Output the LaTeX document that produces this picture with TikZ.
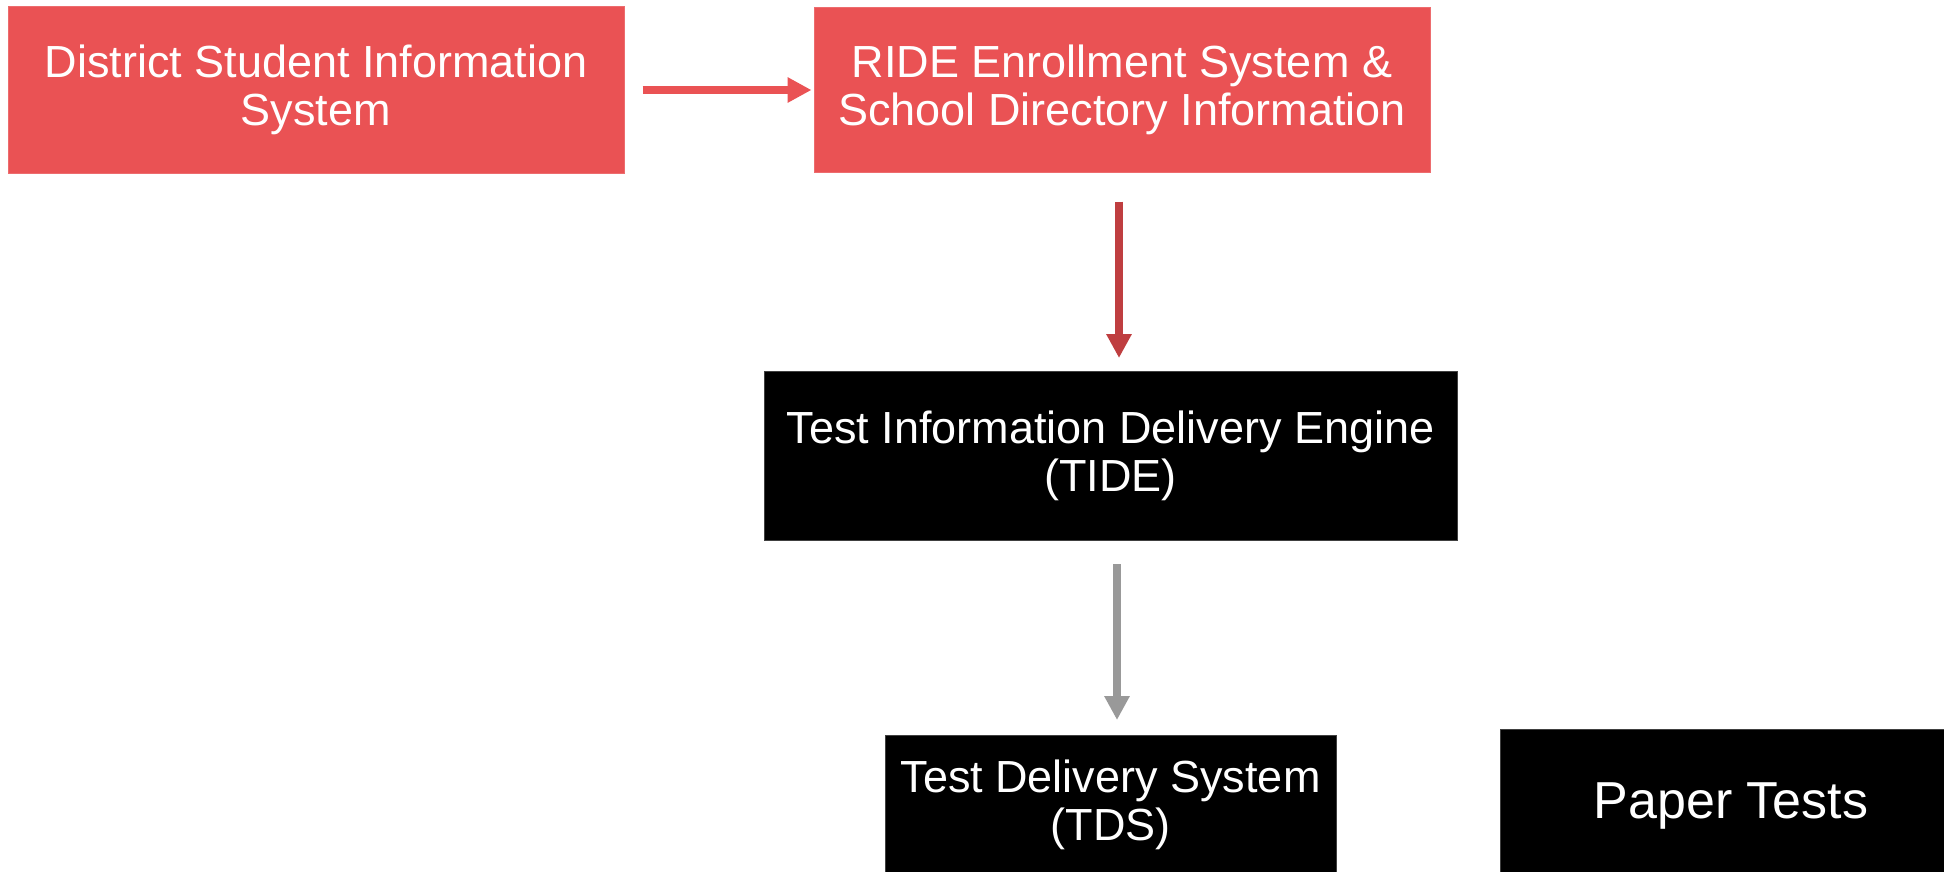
\documentclass[tikz,border=0pt]{standalone}
\usepackage{fontspec}
\setmainfont{Liberation Sans}
\usetikzlibrary{arrows.meta,calc}
\definecolor{boxred}{RGB}{234,82,84}
\definecolor{arrred}{RGB}{191,62,64}
\definecolor{arrgray}{RGB}{153,153,153}
\begin{document}
\begin{tikzpicture}[x=1pt,y=-1pt,
  box/.style={rectangle, inner sep=0pt, text=white, align=center, font=\fontsize{45}{48}\selectfont},
  redbox/.style={box, fill=boxred, draw=boxred!85!white, line width=1pt},
  blackbox/.style={box, fill=black, draw=black!75, line width=1pt},
  conn/.style={line width=8pt, -{Triangle[length=24pt,width=24pt]}},
]
\useasboundingbox (0,0) rectangle (1944,871);
\clip (0,0) rectangle (1944,871);
\fill[white] (0,0) rectangle (1944,871);

\node[redbox, minimum width=616pt, minimum height=167pt] (dsis) at (316,89.5) {District Student Information\\System};
\node[redbox, minimum width=616pt, minimum height=165pt] (ride) at (1122,89.5) {RIDE Enrollment System \&\\School Directory Information};
\node[blackbox, minimum width=693pt, minimum height=169pt] (tide) at (1110.5,456) {Test Information Delivery Engine\\(TIDE)};
\node[blackbox, minimum width=451pt, minimum height=240pt, anchor=north west] (tds) at (885,735) {};
\node[box] (tdsl) at (1110.5,805) {Test Delivery System\\(TDS)};
\node[blackbox, minimum width=500pt, minimum height=240pt, anchor=north west] (paper) at (1500,729) {};
\node[box, font=\fontsize{52}{60}\selectfont] (paperl) at (1731,806) {Paper Tests};

\draw[conn, draw=boxred, shorten <=18pt, shorten >=2pt] ([yshift=-0.5pt]dsis.east) -- ([yshift=-0.5pt]ride.west);
\coordinate (a2) at ([xshift=-3pt]ride.south);
\draw[conn, draw=arrred, shorten <=29pt, shorten >=13pt] (a2) -- (a2 |- tide.north);
\coordinate (a3) at ([xshift=6.5pt]tide.south);
\draw[conn, draw=arrgray, shorten <=23pt, shorten >=15pt] (a3) -- (a3 |- tds.north);
\end{tikzpicture}
\end{document}
